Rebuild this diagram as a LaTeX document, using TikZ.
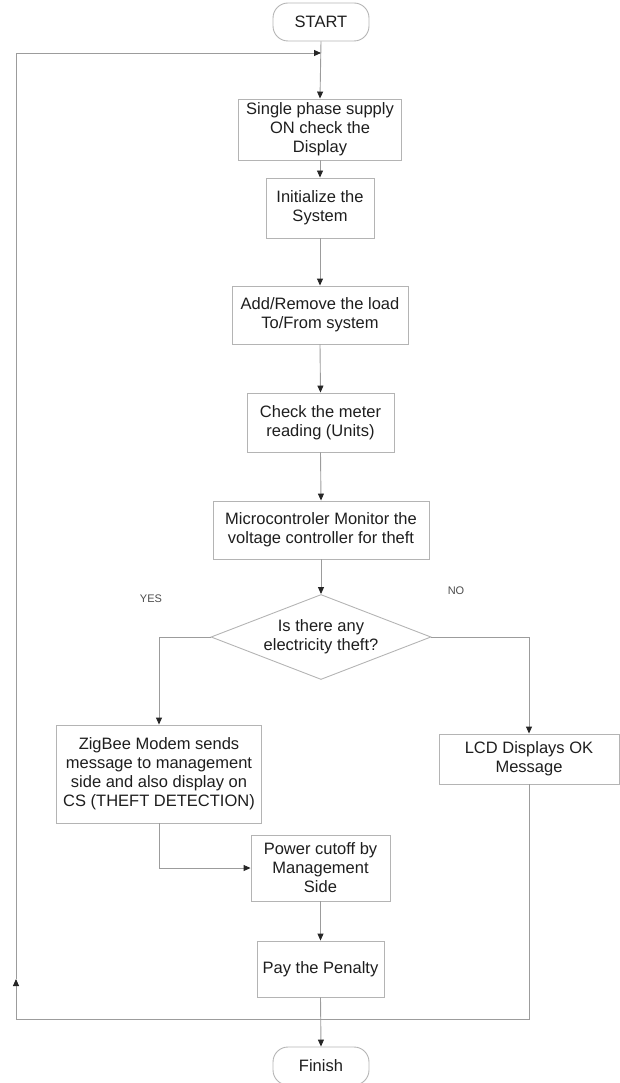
\documentclass[tikz,border=0pt]{standalone}
\usepackage{fontspec}
\setmainfont{Liberation Sans}
\usetikzlibrary{arrows.meta,shapes.geometric}
\definecolor{linec}{HTML}{9C9C9C}
\definecolor{boxc}{HTML}{B4B4B4}
\definecolor{txtc}{HTML}{1E1E1E}
\begin{document}
\begin{tikzpicture}[x=1pt,y=-1pt,
  font=\fontsize{16.5}{19}\selectfont,
  box/.style={draw=boxc,line width=0.9pt,rectangle,align=center,text=txtc,inner sep=2pt},
  term/.style={draw=boxc,line width=0.9pt,rectangle,rounded corners=15pt,align=center,text=txtc,minimum width=96pt,minimum height=38pt},
  decision/.style={draw=boxc,line width=0.9pt,diamond,minimum width=220pt,minimum height=85pt,inner sep=0pt},
  conn/.style={draw=linec,line width=0.9pt},
  arr/.style={conn,-{Triangle[length=7pt,width=6pt,color=black!85]}},
  lab/.style={font=\fontsize{11}{13}\selectfont,text=black!70}]
\useasboundingbox (0,0) rectangle (620,1083);
\node[term] (start) at (321,22) {START};
\node[box,minimum width=163pt,minimum height=61pt] (b1) at (320,129.5) {Single phase supply\\ON check the\\Display};
\node[box,minimum width=108pt,minimum height=60pt] (b2) at (320,208) {Initialize the\\System};
\node[box,minimum width=176pt,minimum height=58pt] (b3) at (320,315) {Add/Remove the load\\To/From system};
\node[box,minimum width=147pt,minimum height=59pt] (b4) at (320.5,422.5) {Check the meter\\reading (Units)};
\node[box,minimum width=216pt,minimum height=58pt] (b5) at (321,530) {Microcontroler Monitor the\\voltage controller for theft};
\node[decision] (d) at (321,637) {};
\node[align=center,text=txtc] (dt) at (d.center) {Is there any\\electricity theft?};
\node[box,minimum width=205pt,minimum height=98pt] (zig) at (159,774) {ZigBee Modem sends\\message to management\\side and also display on\\CS (THEFT DETECTION)};
\node[box,minimum width=180pt,minimum height=50pt] (lcd) at (529,759) {LCD Displays OK\\Message};
\node[box,minimum width=139pt,minimum height=66pt] (pw) at (320.5,868) {Power cutoff by\\Management\\Side};
\node[box,minimum width=127pt,minimum height=56pt] (pay) at (320.5,969) {Pay the Penalty};
\node[term] (fin) at (321,1066) {Finish};
\node[lab] (yes) at (151,599) {YES};
\node[lab] (no) at (456,591) {NO};
\coordinate (jn) at (start.south |- 0,53);
\coordinate (lcdb) at (lcd.south |- 0,1019);
\coordinate (lb) at (16,1019);
\coordinate (lm) at (16,979);
\coordinate (lt) at (16,53);
% main flow
\draw[arr] (start.south) -- (b1.north);
\draw[arr] (b1.south) -- (b2.north);
\draw[arr] (b2.south) -- (b3.north);
\draw[arr] (b3.south) -- (b4.north);
\draw[arr] (b4.south) -- (b5.north);
\draw[arr] (b5.south) -- (d.north);
\draw[arr] (d.west) -| (zig.north);
\draw[arr] (d.east) -| (lcd.north);
\draw[arr] (zig.south) |- (pw.west);
\draw[arr] (pw.south) -- (pay.north);
\draw[arr] (pay.south) -- (fin.north);
% loop back
\draw[conn] (lcd.south) -- (lcdb) -- (lb);
\draw[arr] (lb) -- (lm);
\draw[conn] (lm) -- (lt);
\draw[arr] (lt) -- (jn);
\end{tikzpicture}
\end{document}
